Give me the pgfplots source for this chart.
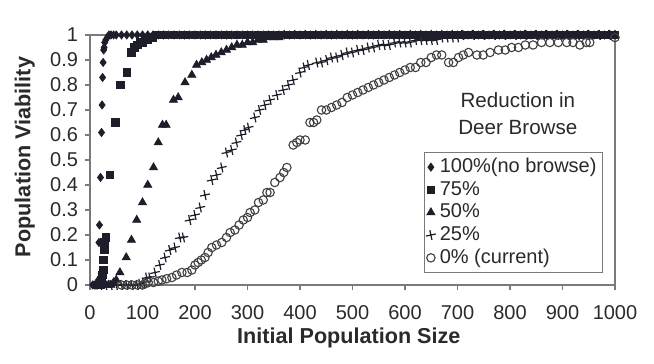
\documentclass[border=0pt]{standalone}
\usepackage{fontspec}
\setmainfont{Liberation Sans}[BoldFont={Liberation Sans Bold}]
\newfontfamily\labfont{Liberation Sans Bold}
\usepackage{pgfplots}
\pgfplotsset{compat=1.18}
\definecolor{mk}{HTML}{1E1E2A}
\definecolor{ax}{HTML}{7A7A7A}
\definecolor{tx}{HTML}{2A2A2A}
\definecolor{ci}{HTML}{404040}
\pgfplotsset{
  mymarks/.style={only marks,
    legend image code/.code={\draw[mark repeat=2,mark phase=2,##1] plot coordinates {(0cm,0cm) (0.13cm,0cm) (0.26cm,0cm)};}},
}
\begin{document}
\begin{tikzpicture}
\begin{axis}[
  scale only axis, width=262.5pt, height=125pt,
  xmin=0, xmax=1000, ymin=0, ymax=1,
  xtick={0,100,200,300,400,500,600,700,800,900,1000},
  xticklabels={0,100,200,300,400,500,600,700,800,900,1000},
  ytick={0,0.1,0.2,0.3,0.4,0.5,0.6,0.7,0.8,0.9,1},
  yticklabels={0,0.1,0.2,0.3,0.4,0.5,0.6,0.7,0.8,0.9,1},
  tick align=outside, tick pos=left, major tick length=2.5pt,
  axis line style={ax, line width=0.6pt}, tick style={ax, line width=0.6pt},
  tick label style={font=\fontsize{10}{11}\selectfont, text=tx},
  xticklabel style={yshift=-4pt},
  xlabel={Initial Population Size}, ylabel={Population Viability},
  every axis x label/.style={at={(axis description cs:0.493,-0.21)}, anchor=center, font=\labfont\fontsize{10.8}{12}\selectfont, text=tx},
  every axis y label/.style={at={(axis description cs:-0.124,0.512)}, anchor=center, rotate=90, font=\labfont\fontsize{10.8}{12}\selectfont, text=tx},
  clip=false,
  legend cell align=left,
  legend style={at={(axis description cs:0.977,0.048)}, anchor=south east, draw=ax, fill=white,
    font=\fontsize{10}{12}\selectfont, text=tx, inner sep=1pt, row sep=-1.2pt},
]
\addplot[mymarks, mark=diamond*, mark size=2pt, mk, mark options={fill=mk}] coordinates {
(5,0)(8,0)(10,0)(12,0)(14,0)(16,0.02)(17,0.17)(18,0.24)(20,0.43)(22,0.61)(23,0.72)(24,0.83)(25,0.89)(26,0.94)(27,0.95)(28,0.97)(30,0.98)(33,0.99)(36,1)(40,1)(45,1)
(50,1)(60,1)(70,1)(80,1)(90,1)(100,1)(110,1)(120,1)(130,1)(140,1)(150,1)(160,1)(170,1)(180,1)(190,1)(200,1)(210,1)(220,1)(230,1)(240,1)(250,1)(260,1)(270,1)(280,1)(290,1)(300,1)(310,1)(320,1)(330,1)(340,1)(350,1)(360,1)(370,1)(380,1)(390,1)(400,1)(410,1)(420,1)(430,1)(440,1)(450,1)(460,1)(470,1)(480,1)(490,1)(500,1)(510,1)(520,1)(530,1)(540,1)(550,1)(560,1)(570,1)(580,1)(590,1)(600,1)(610,1)(620,1)(630,1)(640,1)(650,1)(660,1)(670,1)(680,1)(690,1)(700,1)(710,1)(720,1)(730,1)(740,1)(750,1)(760,1)(770,1)(780,1)(790,1)(800,1)(810,1)(820,1)(830,1)(840,1)(850,1)(860,1)(870,1)(880,1)(890,1)(900,1)(910,1)(920,1)(930,1)(940,1)(950,1)(960,1)(970,1)(980,1)(990,1)(1000,1)
};
\addlegendentry{100\%(no browse)}
\addplot[mymarks, mark=square*, mark size=1.9pt, mk, mark options={fill=mk}] coordinates {
(16,0)(18,0)(20,0)(22,0.02)(24,0.04)(25,0.06)(26,0.10)(27,0.14)(28,0.17)(30,0.19)(38,0.44)(48,0.65)(58,0.80)(70,0.85)(79,0.93)(85,0.95)(90,0.96)(95,0.97)(100,0.97)(105,0.98)(110,0.98)(115,0.99)(120,0.99)(130,1)
(140,1)(160,1)(180,1)(200,1)(220,1)(240,1)(260,1)(280,1)(300,1)(320,1)(340,1)(360,1)(380,1)(400,1)(420,1)(440,1)(460,1)(480,1)(500,1)(520,1)(540,1)(560,1)(580,1)(600,1)(620,1)(640,1)(660,1)(680,1)(700,1)(720,1)(740,1)(760,1)(780,1)(800,1)(820,1)(840,1)(860,1)(880,1)(900,1)(920,1)(940,1)(960,1)(980,1)(1000,1)
};
\addlegendentry{75\%}
\addplot[mymarks, mark=triangle*, mark size=2.3pt, mk, mark options={fill=mk}] coordinates {
(20,0)(25,0)(30,0)(35,0)(40,0)(45,0.01)(50,0.02)(57,0.05)(69,0.11)(79,0.18)(89,0.26)(100,0.33)(110,0.40)(121,0.47)(130,0.57)(138,0.64)(145,0.64)(159,0.74)(168,0.75)(181,0.81)(194,0.84)(203,0.88)(213,0.89)(222,0.90)(231,0.91)(240,0.92)(250,0.93)(260,0.94)(270,0.95)(280,0.96)(290,0.96)(300,0.97)(310,0.97)(320,0.98)(330,0.98)(340,0.99)(350,0.99)(360,0.99)(370,1)
(390,1)(410,1)(430,1)(450,1)(470,1)(490,1)(510,1)(530,1)(550,1)(570,1)(590,1)(610,1)(630,1)(650,1)(670,1)(690,1)(710,1)(730,1)(750,1)(770,1)(790,1)(810,1)(830,1)(850,1)(870,1)(890,1)(910,1)(930,1)(950,1)(970,1)(990,1)(1000,1)
};
\addlegendentry{50\%}
\addplot[mymarks, mark=+, mark size=2.5pt, mk, mark options={line width=0.6pt, rotate=12}] coordinates {
(20,0)(30,0)(40,0)(50,0)(60,0)(70,0)(80,0)(90,0)(95,0.005)(102,0.01)(108,0.03)(114,0.03)(124,0.05)(133,0.08)(143,0.11)(152,0.14)(162,0.15)(171,0.19)(178,0.19)(190,0.26)(200,0.28)(210,0.31)(219,0.36)(232,0.42)(241,0.44)(251,0.47)(260,0.53)(270,0.54)(279,0.57)(288,0.60)(295,0.62)(302,0.63)(314,0.67)(323,0.70)(333,0.72)(343,0.74)(356,0.76)(368,0.78)(378,0.80)(387,0.82)(400,0.85)(408,0.87)(416,0.88)(432,0.89)(441,0.89)(451,0.90)(460,0.91)(470,0.91)(480,0.92)(490,0.93)(500,0.93)(510,0.94)(520,0.94)(530,0.95)(540,0.95)(550,0.96)(560,0.96)(570,0.96)(580,0.97)(590,0.97)(600,0.97)(610,0.97)(620,0.98)(630,0.98)(640,0.98)(650,0.98)(660,0.98)(670,0.99)(680,0.99)(690,0.99)(700,0.99)
(710,1)(730,1)(750,1)(770,1)(790,1)(810,1)(830,1)(850,1)(870,1)(890,1)(910,1)(930,1)(950,1)(970,1)(990,1)
};
\addlegendentry{25\%}
\addplot[mymarks, mark=o, mark size=2.1pt, ci, mark options={line width=0.55pt}] coordinates {
(60,0)(70,0)(80,0)(90,0)(100,0)(105,0.005)(111,0.01)(121,0.01)(130,0.015)(137,0.02)(146,0.025)(156,0.03)(165,0.04)(175,0.05)(185,0.05)(194,0.06)(200,0.08)(206,0.09)(212,0.10)(219,0.11)(225,0.13)(232,0.15)(241,0.16)(251,0.17)(260,0.19)(267,0.21)(276,0.22)(284,0.24)(292,0.26)(300,0.27)(305,0.29)(314,0.30)(321,0.33)(330,0.34)(337,0.37)(343,0.37)(352,0.41)(362,0.43)(369,0.45)(375,0.47)(387,0.56)(394,0.57)(400,0.58)(410,0.58)(419,0.65)(426,0.65)(432,0.66)(441,0.70)(450,0.70)(460,0.71)(470,0.72)(480,0.73)(490,0.75)(500,0.76)(510,0.77)(520,0.78)(530,0.79)(540,0.80)(550,0.81)(560,0.82)(570,0.83)(580,0.84)(590,0.85)(600,0.86)(610,0.87)(620,0.87)(630,0.89)(640,0.89)(650,0.91)(660,0.92)(670,0.92)(683,0.89)(692,0.89)(702,0.91)(711,0.92)(721,0.93)(737,0.92)(749,0.92)(762,0.93)(778,0.94)(791,0.94)(803,0.95)(816,0.95)(829,0.96)(844,0.96)(860,0.97)(876,0.97)(892,0.97)(908,0.97)(920,0.97)(933,0.96)(945,0.97)(952,0.97)(1000,0.99)
};
\addlegendentry{0\% (current)}
\node[align=center, font=\fontsize{10.3}{13.5}\selectfont, text=tx] at (axis description cs:0.815,0.686) {Reduction in\\Deer Browse};
\end{axis}
\pgfresetboundingbox
\path ([shift={(-45pt,-39.5pt)}]current axis.south west) rectangle ([shift={(282pt,142.5pt)}]current axis.south west);
\end{tikzpicture}
\end{document}
